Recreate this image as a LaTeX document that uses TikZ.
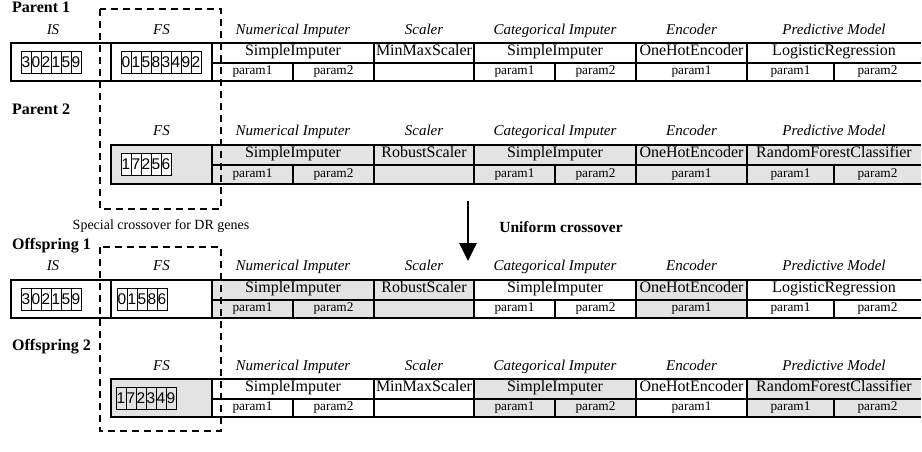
\documentclass[tikz,border=0pt]{standalone}
\usepackage{fontspec}
\setmainfont{Liberation Serif}
\newfontfamily\digitfont{Liberation Sans}
\usetikzlibrary{arrows.meta}
\tikzset{
  hdr/.style={font=\fontsize{15}{17}\selectfont\itshape, inner sep=0pt, text height=0.7em, text depth=0.2em},
  ent/.style={font=\fontsize{16}{18}\selectfont, inner sep=0pt, text height=0.7em, text depth=0.2em},
  prm/.style={font=\fontsize{13.3}{15}\selectfont, inner sep=0pt, text height=0.7em, text depth=0.2em},
  lbl/.style={font=\fontsize{16}{18}\selectfont\bfseries, inner sep=0pt, anchor=west, text height=0.7em, text depth=0.2em},
  note/.style={font=\fontsize{14}{16}\selectfont, inner sep=0pt, text height=0.7em, text depth=0.2em},
  dig/.style={draw, line width=0.8pt, minimum width=10pt, minimum height=22pt, inner sep=0pt, font=\digitfont\fontsize{15.5}{17}\selectfont},
  grid/.style={line width=1.2pt},
  shade/.style={fill=gray!22},
  dashbox/.style={line width=2.4pt, dash pattern=on 7pt off 5pt},
}
\newcommand{\digitcells}[4]{%
  \foreach \d [count=\i] in {#4} {\node[dig] (#1-\i) at ({#2+5+(\i-1)*10},#3) {\d};}}
\newcommand{\gheaders}[2]{%
  \node[hdr] (#1-hn) at (293,#2) {Numerical Imputer};
  \node[hdr] (#1-hs) at (424,#2) {Scaler};
  \node[hdr] (#1-hc) at (555,#2) {Categorical Imputer};
  \node[hdr] (#1-he) at (691.5,#2) {Encoder};
  \node[hdr] (#1-hp) at (834,#2) {Predictive Model};}
\newcommand{\gtable}[9]{%
  \fill[#5] (212,#2) rectangle (374,#4);
  \fill[#6] (374,#2) rectangle (474,#4);
  \fill[#7] (474,#2) rectangle (636,#4);
  \fill[#8] (636,#2) rectangle (747,#4);
  \fill[#9] (747,#2) rectangle (921,#4);
  \draw[grid] (212,#2) -- (921,#2) (212,#3) -- (921,#3) (212,#4) -- (921,#4);
  \draw[grid] (374,#2) -- (374,#4) (474,#2) -- (474,#4) (636,#2) -- (636,#4) (747,#2) -- (747,#4);
  \draw[grid] (293,#3) -- (293,#4) (555,#3) -- (555,#4) (834,#3) -- (834,#4);
  \node[ent] (#1-num) at (293,{(#2+#3)/2}) {SimpleImputer};
  \node[ent] (#1-cat) at (555,{(#2+#3)/2}) {SimpleImputer};
  \node[ent] (#1-enc) at (691.5,{(#2+#3)/2}) {OneHotEncoder};
  \node[prm] (#1-n1) at (252.5,{(#3+#4)/2}) {param1};
  \node[prm] (#1-n2) at (333.5,{(#3+#4)/2}) {param2};
  \node[prm] (#1-c1) at (514.5,{(#3+#4)/2}) {param1};
  \node[prm] (#1-c2) at (595.5,{(#3+#4)/2}) {param2};
  \node[prm] (#1-e1) at (691.5,{(#3+#4)/2}) {param1};
  \node[prm] (#1-m1) at (790.5,{(#3+#4)/2}) {param1};
  \node[prm] (#1-m2) at (877.5,{(#3+#4)/2}) {param2};}
\begin{document}
\begin{tikzpicture}[x=1pt,y=-1pt]
\useasboundingbox[fill=white] (0,0) rectangle (922,451);

% ---------- Parent 1 ----------
\node[lbl] (p1lab) at (12,10) {Parent 1};
\node[hdr] (p1is) at (53,32) {IS};
\node[hdr] (p1fs) at (161.5,32) {FS};
\gheaders{p1}{32}
\gtable{p1}{43}{63}{81}{white}{white}{white}{white}{white}
\node[ent] (p1-sc) at (424,53) {MinMaxScaler};
\node[ent] (p1-md) at (834,53) {LogisticRegression};
\draw[grid] (11,43) rectangle (111,81);
\draw[grid] (111,43) rectangle (212,81);
\digitcells{p1i}{21}{62}{3,0,2,1,5,9}
\digitcells{p1f}{121}{62}{0,1,5,8,3,4,9,2}

% ---------- Parent 2 ----------
\node[lbl] (p2lab) at (12,112) {Parent 2};
\node[hdr] (p2fs) at (161.5,133) {FS};
\gheaders{p2}{133}
\gtable{p2}{145}{165}{184}{gray!22}{gray!22}{gray!22}{gray!22}{gray!22}
\node[ent] (p2-sc) at (424,155) {RobustScaler};
\node[ent] (p2-md) at (834,155) {RandomForestClassifier};
\draw[grid, shade] (111,145) rectangle (212,184);
\begin{scope}[dig/.append style={fill=white}]
\digitcells{p2f}{121}{164.5}{1,7,2,5,6}
\end{scope}

% ---------- crossover ----------
\node[note] (spec) at (161,227) {Special crossover for DR genes};
\coordinate (arrS) at (468,201);
\coordinate (arrE) at (468,261);
\draw[-{Triangle[length=18pt,width=17pt]}, line width=2.8pt] (arrS) -- (arrE);
\node[font=\fontsize{15.5}{17}\selectfont\bfseries, inner sep=0pt] (unif) at (561,227) {Uniform crossover};

% ---------- Offspring 1 ----------
\node[lbl] (o1lab) at (12,247) {Offspring 1};
\node[hdr] (o1is) at (53,268) {IS};
\node[hdr] (o1fs) at (161.5,268) {FS};
\gheaders{o1}{268}
\gtable{o1}{280}{300}{318}{gray!22}{gray!22}{white}{gray!22}{white}
\node[ent] (o1-sc) at (424,290) {RobustScaler};
\node[ent] (o1-md) at (834,290) {LogisticRegression};
\draw[grid] (11,280) rectangle (111,318);
\draw[grid] (111,280) rectangle (212,318);
\digitcells{o1i}{21}{299}{3,0,2,1,5,9}
\digitcells{o1f}{117}{299}{0,1,5,8,6}

% ---------- Offspring 2 ----------
\node[lbl] (o2lab) at (12,348) {Offspring 2};
\node[hdr] (o2fs) at (161.5,368) {FS};
\gheaders{o2}{368}
\gtable{o2}{379}{399}{417}{white}{white}{gray!22}{white}{gray!22}
\node[ent] (o2-sc) at (424,389) {MinMaxScaler};
\node[ent] (o2-md) at (834,389) {RandomForestClassifier};
\draw[grid, shade] (111,379) rectangle (212,417);
\digitcells{o2f}{116}{398}{1,7,2,3,4,9}

% ---------- dashed boxes ----------
\draw[dashbox] (100,9) rectangle (221,209);
\draw[dashbox] (100,247) rectangle (221,431);
\end{tikzpicture}
\end{document}
